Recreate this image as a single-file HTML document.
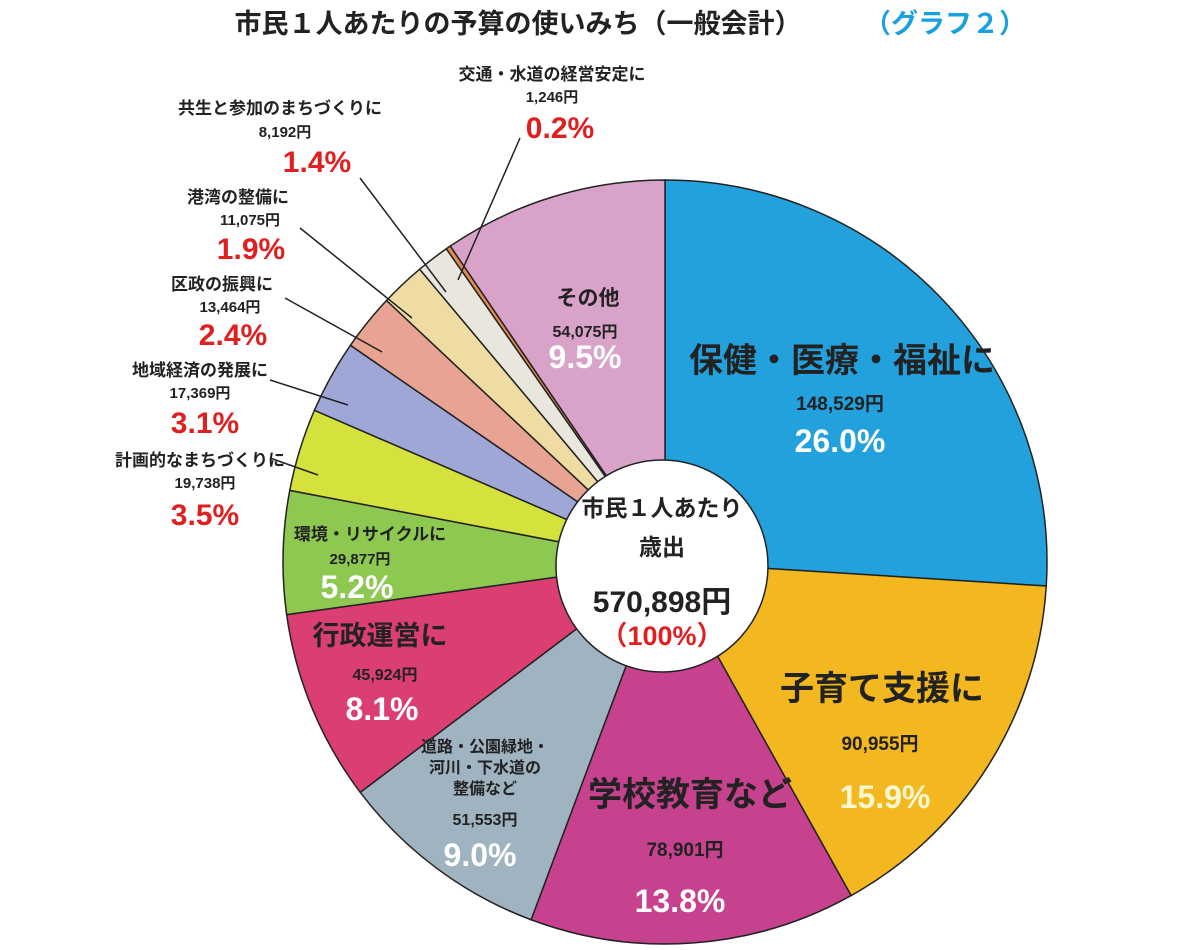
<!DOCTYPE html><html><head><meta charset="utf-8"><style>
body{margin:0;background:#fff;width:1200px;height:945px;overflow:hidden;font-family:"Liberation Sans","Noto Sans CJK JP",sans-serif}
svg text{font-family:"Liberation Sans","Noto Sans CJK JP",sans-serif;font-weight:bold;text-anchor:middle}
</style></head><body>
<svg id="s" width="1200" height="945" xmlns="http://www.w3.org/2000/svg">
<g id="pie"></g>
<text x="518" y="33" font-size="27" fill="#222">市民１人あたりの予算の使いみち（一般会計）</text>
<text x="945" y="33" font-size="27" fill="#1aa0e0">（グラフ２）</text>
<g stroke="#222" stroke-width="1.5" fill="none">
<line x1="520" y1="138" x2="458" y2="280"/>
<line x1="360" y1="178" x2="446" y2="292"/>
<line x1="300" y1="228" x2="412" y2="318"/>
<line x1="285" y1="298" x2="382" y2="352"/>
<line x1="270" y1="380" x2="348" y2="405"/>
<line x1="270" y1="458" x2="318" y2="475"/>
</g>
<circle cx="662" cy="566" r="106" fill="#fff" stroke="#222" stroke-width="1.5"/>
<text x="662" y="516" font-size="23" fill="#222">市民１人あたり</text>
<text x="662" y="555" font-size="23" fill="#222">歳出</text>
<text x="662" y="612" font-size="30" fill="#222" font-weight="normal">570,898円</text>
<text x="662" y="645" font-size="27" fill="#e02020" font-weight="normal">（100%）</text>
<g fill="#222" font-size="17">
<text x="552" y="80">交通・水道の経営安定に</text><text x="552" y="102" font-size="15">1,246円</text>
<text x="280" y="114">共生と参加のまちづくりに</text><text x="285" y="137" font-size="15">8,192円</text>
<text x="238" y="203">港湾の整備に</text><text x="250" y="225" font-size="15">11,075円</text>
<text x="222" y="290">区政の振興に</text><text x="230" y="312" font-size="15">13,464円</text>
<text x="200" y="376">地域経済の発展に</text><text x="200" y="398" font-size="15">17,369円</text>
<text x="200" y="466">計画的なまちづくりに</text><text x="205" y="488" font-size="15">19,738円</text>
</g>
<g fill="#e02020" font-size="30" font-weight="normal">
<text x="560" y="138">0.2%</text><text x="317" y="172">1.4%</text><text x="251" y="259">1.9%</text>
<text x="233" y="345">2.4%</text><text x="205" y="433">3.1%</text><text x="205" y="525" font-weight="bold">3.5%</text>
</g>
<g fill="#222">
<text x="588" y="305" font-size="21">その他</text><text x="585" y="337" font-size="16">54,075円</text>
<text x="842" y="372" font-size="34">保健・医療・福祉に</text><text x="840" y="410" font-size="19">148,529円</text>
<text x="882" y="700" font-size="34">子育て支援に</text><text x="880" y="750" font-size="19">90,955円</text>
<text x="690" y="806" font-size="34">学校教育など</text><text x="685" y="856" font-size="19">78,901円</text>
<text x="485" y="752" font-size="16">道路・公園緑地・</text><text x="485" y="773" font-size="16">河川・下水道の</text><text x="485" y="794" font-size="16">整備など</text><text x="485" y="825" font-size="16">51,553円</text>
<text x="380" y="645" font-size="27">行政運営に</text><text x="385" y="680" font-size="16">45,924円</text>
<text x="370" y="540" font-size="17">環境・リサイクルに</text><text x="360" y="564" font-size="15">29,877円</text>
</g>
<g fill="#fff" font-size="32">
<text x="585" y="368">9.5%</text><text x="840" y="452">26.0%</text><text x="885" y="808" fill="#fff8d0">15.9%</text>
<text x="680" y="912">13.8%</text><text x="480" y="866">9.0%</text><text x="382" y="720">8.1%</text><text x="357" y="598">5.2%</text>
</g>
</svg>
<script>
var d=[[26.0,"#22a1dd"],[15.9,"#f3b81f"],[13.8,"#c7428e"],[9.0,"#a0b3c1"],[8.1,"#db3f72"],[5.2,"#8dc851"],[3.5,"#d5e13d"],[3.1,"#9ea7d6"],[2.4,"#e8a393"],[1.9,"#efdca2"],[1.4,"#e9e7dd"],[0.2,"#e58a4f"],[9.5,"#d9a2c9"]];
var cx=665,cy=562,r=382,a=-Math.PI/2,h="";
d.forEach(function(s){var b=a+s[0]/100*2*Math.PI;
var x1=cx+r*Math.cos(a),y1=cy+r*Math.sin(a),x2=cx+r*Math.cos(b),y2=cy+r*Math.sin(b);
h+='<path d="M'+cx+' '+cy+'L'+x1+' '+y1+'A'+r+' '+r+' 0 '+((b-a)>Math.PI?1:0)+' 1 '+x2+' '+y2+'Z" fill="'+s[1]+'" stroke="#222" stroke-width="1.5"/>';a=b;});
document.getElementById("pie").innerHTML=h;
</script>
</body></html>
